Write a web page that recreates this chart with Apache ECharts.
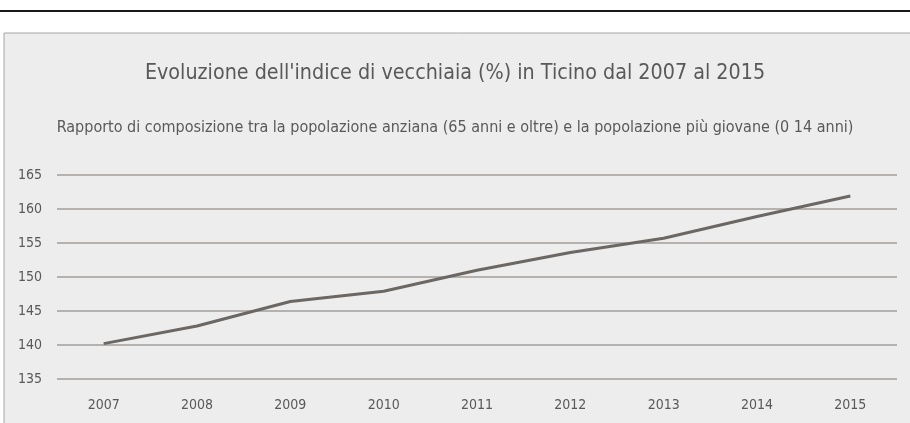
<!DOCTYPE html>
<html>
<head>
<meta charset="utf-8">
<script src="https://cdn.jsdelivr.net/npm/echarts@6/dist/echarts.min.js"></script>
<style>
  html, body { margin: 0; padding: 0; background: #fff; }
  #main { width: 910px; height: 423px; }
</style>
</head>
<body>
<div id="main"></div>
<script>
// anni e indice di vecchiaia (%)
var anni = ['2007', '2008', '2009', '2010', '2011', '2012', '2013', '2014', '2015'];
var indice = [140.2, 142.8, 146.4, 147.9, 151.0, 153.6, 155.7, 158.9, 161.9];
var yMin = 135, yMax = 165, yStep = 5;

var titolo = "Evoluzione dell'indice di vecchiaia (%) in Ticino dal 2007 al 2015";
var sottotitolo = 'Rapporto di composizione tra la popolazione anziana (65 anni e oltre) e la popolazione più giovane (0 14 anni)';

var font = '"Liberation Sans Narrow", "DejaVu Sans Condensed", sans-serif';

var myChart = echarts.init(document.getElementById('main'));
var option = {
    backgroundColor: '#fff',
    animation: false,
    graphic: [
        // linea nera in alto
        { type: 'line', shape: { x1: 0, y1: 11, x2: 910, y2: 11 }, style: { stroke: '#1a1a1a', lineWidth: 2 }, z: -1 },
        // pannello grigio
        { type: 'rect', shape: { x: 4, y: 33, width: 920, height: 400 }, style: { fill: '#ededed', stroke: '#a6a6a6', lineWidth: 1 }, z: -2 }
    ],
    title: [
        {
            text: titolo,
            left: 'center',
            top: 58,
            textStyle: { color: '#595959', fontSize: 21.3, fontWeight: 'normal', fontFamily: font }
        },
        {
            text: sottotitolo,
            left: 'center',
            top: 115,
            textStyle: { color: '#595959', fontSize: 16, fontWeight: 'normal', fontFamily: font }
        }
    ],
    grid: { left: 57, right: 13, top: 175, bottom: 44 },
    xAxis: {
        type: 'category',
        data: anni,
        boundaryGap: true,
        axisLine: { show: false },
        axisTick: { show: false },
        axisLabel: { color: '#595959', fontSize: 14, fontFamily: font, margin: 19 }
    },
    yAxis: {
        type: 'value',
        min: yMin,
        max: yMax,
        interval: yStep,
        axisLine: { show: false },
        axisTick: { show: false },
        axisLabel: { color: '#595959', fontSize: 14, fontFamily: font, margin: 15 },
        splitLine: { lineStyle: { color: '#a09c9a', width: 1.5 } }
    },
    series: [
        {
            type: 'line',
            data: indice,
            symbol: 'none',
            lineStyle: { color: '#6b6765', width: 3 },
            itemStyle: { color: '#6b6765' }
        }
    ]
};
myChart.setOption(option);
</script>
</body>
</html>
